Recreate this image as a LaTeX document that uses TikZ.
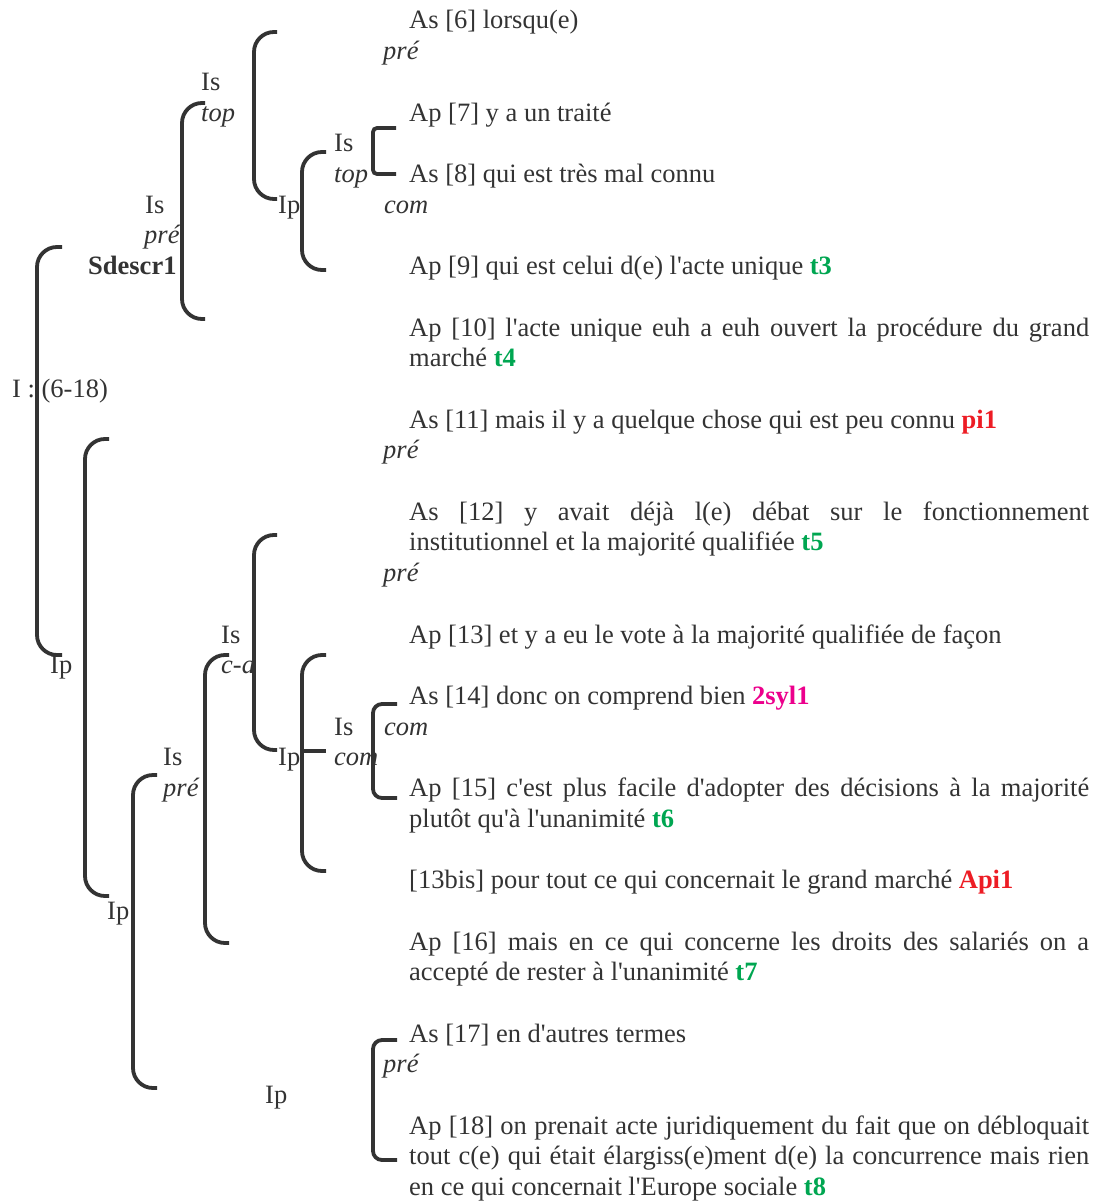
\documentclass[tikz,border=0pt]{standalone}
\usepackage{fontspec}
\setmainfont{Liberation Serif}[Ligatures=TeXOff]
\usepackage{xcolor}
\usepackage{tikz}

\definecolor{ink}{HTML}{333333}
\definecolor{tgreen}{HTML}{00A651}
\definecolor{tred}{HTML}{ED1C24}
\definecolor{tpink}{HTML}{EC008C}
\newcommand{\tg}[1]{\textcolor{tgreen}{\textbf{#1}}}
\newcommand{\tr}[1]{\textcolor{tred}{\textbf{#1}}}
\newcommand{\tp}[1]{\textcolor{tpink}{\textbf{#1}}}

\begin{document}
\begin{tikzpicture}[x=1pt,y=-1pt,
    every node/.style={inner sep=0pt,anchor=base west,text=ink,
        font=\fontsize{26.5}{30.7}\selectfont},
    brk/.style={draw=ink,line width=3.8pt,rounded corners=20pt},
    brksmall/.style={brk,rounded corners=9pt}]
        \useasboundingbox (0,0) rectangle (1103,1201);

        % segments
        \node (as6)   at (409,29)    {As [6] lorsqu(e)};
        \node (pre6)  at (383,59.7)  {\textit{pré}};
        \node (ap7)   at (409,121.1) {Ap [7] y a un traité};
        \node (as8)   at (409,182.5) {As [8] qui est très mal connu};
        \node (com8)  at (384,213.2) {\textit{com}};
        \node (ap9)   at (409,274.6) {Ap [9] qui est celui d(e) l'acte unique \tg{t3}};
        \node (ap10)  at (409,336)   {\parbox[t]{680pt}{Ap [10] l'acte unique euh a euh ouvert la procédure du grand\linebreak marché \tg{t4}}};
        \node (as11)  at (409,428.1) {As [11] mais il y a quelque chose qui est peu connu \tr{pi1}};
        \node (pre11) at (383,458.8) {\textit{pré}};
        \node (as12)  at (409,520.2) {\parbox[t]{680pt}{As [12] y avait déjà l(e) débat sur le fonctionnement\linebreak institutionnel et la majorité qualifiée \tg{t5}}};
        \node (pre12) at (383,581.6) {\textit{pré}};
        \node (ap13)  at (409,643)   {Ap [13] et y a eu le vote à la majorité qualifiée de façon};
        \node (as14)  at (409,704.4) {As [14] donc on comprend bien \tp{2syl1}};
        \node (com14) at (384,735.1) {\textit{com}};
        \node (ap15)  at (409,796.5) {\parbox[t]{680pt}{Ap [15] c'est plus facile d'adopter des décisions à la majorité\linebreak plutôt qu'à l'unanimité \tg{t6}}};
        \node (bis13) at (409,888.6) {[13bis] pour tout ce qui concernait le grand marché \tr{Api1}};
        \node (ap16)  at (409,950)   {\parbox[t]{680pt}{Ap [16] mais en ce qui concerne les droits des salariés on a\linebreak accepté de rester à l'unanimité \tg{t7}}};
        \node (as17)  at (409,1042.1){As [17] en d'autres termes};
        \node (pre17) at (383,1072.8){\textit{pré}};
        \node (ap18)  at (409,1134.2){\parbox[t]{680pt}{Ap [18] on prenait acte juridiquement du fait que on débloquait\linebreak tout c(e) qui était élargiss(e)ment d(e) la concurrence mais rien\linebreak en ce qui concernait l'Europe sociale \tg{t8}}};

        % brackets
        \foreach \xa/\xb/\ya/\yb in {254/277/32/199, 182/205/103/319, 302/326/152/270,
                37/62/247/655, 85/109/439/896, 254/277/535/750, 205/229/655/943,
                302/326/655/871, 133/157/775/1088}
            \draw[brk] (\xb,\ya) -- (\xa,\ya) -- (\xa,\yb) -- (\xb,\yb);
        \foreach \ya/\yb in {704/798, 1040/1160}
            \draw[brksmall] (397,\ya) -- (373,\ya) -- (373,\yb) -- (397,\yb);
        \draw[brk,rounded corners=4pt] (396,128) -- (373,128) -- (373,174) -- (396,174);
        \draw[brk] (302,751) -- (326,751);

        % labels
        \node (isTop1) at (201,90.4)  {Is};
        \node (top1)   at (201,121.1) {\textit{top}};
        \node (isPre1) at (145,213.2) {Is};
        \node (pre1)   at (144,243.9) {\textit{pré}};
        \node (sdescr) at (88,274.6)  {\textbf{Sdescr1}};
        \node (itot)   at (12,397.4)  {I : (6-18)};
        \node (ip1)    at (50,673.7)  {Ip};
        \node (isTop2) at (334,151.8) {Is};
        \node (top2)   at (334,182.5) {\textit{top}};
        \node (ip2)    at (278,213.2) {Ip};
        \node (isCa)   at (221,643)   {Is};
        \node (ca)     at (221,673.7) {\textit{c-a}};
        \node (isPre2) at (163,765.8) {Is};
        \node (pre2)   at (163,796.5) {\textit{pré}};
        \node (ip3)    at (107,919.3) {Ip};
        \node (ip4)    at (278,765.8) {Ip};
        \node (isCom)  at (334,735.1) {Is};
        \node (comL)   at (334,765.8) {\textit{com}};
        \node (ip5)    at (265,1103.5){Ip};
    \end{tikzpicture}
\end{document}
